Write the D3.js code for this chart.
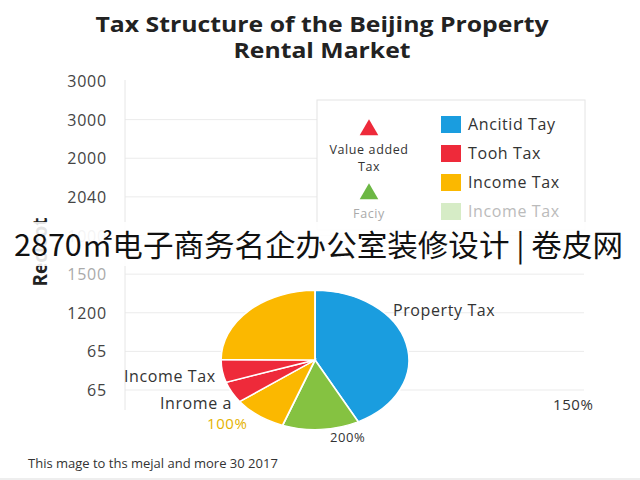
<!DOCTYPE html>
<html>
<head>
<meta charset="utf-8">
<script src="https://cdn.jsdelivr.net/npm/d3@7"></script>
<style>
  html, body { margin: 0; padding: 0; background: #fff; }
  svg { display: block; }
</style>
</head>
<body>
<svg id="chart" width="640" height="480"></svg>
<script>
// ---- data ----
const titleLines = ["Tax Structure of the Beijing Property", "Rental Market"];
const yTickLabels = ["3000", "3000", "2000", "2040", "1000", "1500", "1200", "65", "65"];
const yAxisTitle = "Reclcot";
const sliceNames = ["Property Tax", "Facicy", "Income Tax", "Tooh Tax", "Value added Tax", "Income Tax "];
const sliceValues = [42.4, 13.2, 9.2, 5.0, 5.3, 24.9];
const sliceColors = ["#1a9ddf", "#85c241", "#fbb800", "#ee2a3a", "#ee2a3a", "#fbb800"];
const legendNames = ["Ancitid Tay", "Tooh Tax", "Income Tax", "Income Tax"];
const legendColors = ["#1a9ddf", "#ee2a3a", "#fbb800", "#d6ecc6"];
const triangleNames = [["Value added", "Tax"], ["Faciy"]];
const triangleColors = ["#ee2a3a", "#6cb744"];
const pieLabels = [
  {text: "Property Tax", x: 393, y: 316, color: "#333", size: 16},
  {text: "Income Tax", x: 124, y: 382, color: "#333", size: 16},
  {text: "Inrome a", x: 160, y: 409, color: "#333", size: 16},
  {text: "100%", x: 207, y: 429, color: "#e5b200", size: 15},
  {text: "200%", x: 330, y: 442, color: "#333", size: 13},
  {text: "150%", x: 553, y: 410, color: "#333", size: 15}
];
const bannerText = "2870㎡电子商务名企办公室装修设计 | 卷皮网";
const footerText = "This mage to ths mejal and more 30 2017";

const svg = d3.select("#chart");
const font = "'Open Sans', 'Noto Sans', sans-serif";

// title
const titleWidths = [453, 177];
svg.selectAll("text.title").data(titleLines).join("text")
  .attr("class", "title")
  .attr("x", 322).attr("y", (d, i) => 32 + i * 26)
  .attr("text-anchor", "middle")
  .attr("font-family", font).attr("font-weight", "bold")
  .attr("font-size", 21).attr("fill", "#222")
  .attr("textLength", (d, i) => titleWidths[i]).attr("lengthAdjust", "spacingAndGlyphs")
  .text(d => d);

// y axis (point scale over tick labels)
const y = d3.scalePoint().domain(d3.range(yTickLabels.length)).range([81, 390]);
const gridIdx = [1, 2, 3, 4, 5, 6, 7, 8];
svg.append("g").selectAll("line").data(gridIdx).join("line")
  .attr("x1", 125).attr("x2", 584)
  .attr("y1", d => y(d)).attr("y2", d => y(d))
  .attr("stroke", "#ebebeb").attr("stroke-width", 1);
svg.append("line").attr("x1", 125).attr("x2", 125).attr("y1", 80).attr("y2", 410)
  .attr("stroke", "#e6e6e6");

const yAxis = d3.axisLeft(y).tickSize(0).tickFormat(i => yTickLabels[i]);
const gy = svg.append("g").attr("transform", "translate(107,0)").call(yAxis);
gy.select(".domain").remove();
gy.selectAll("text")
  .attr("font-family", font).attr("font-size", 16).attr("letter-spacing", 0.8)
  .attr("fill", (d) => (d === 4 || d === 5) ? "#aaa" : "#444")
  .attr("dy", "0.35em").attr("x", 0);

// y axis title
svg.append("text")
  .attr("transform", "translate(47,252) rotate(-90)")
  .attr("text-anchor", "middle")
  .attr("font-family", font).attr("font-weight", "bold")
  .attr("font-size", 19).attr("fill", "#222")
  .text(yAxisTitle);

// legend box
svg.append("rect").attr("x", 317).attr("y", 100).attr("width", 268).attr("height", 130)
  .attr("fill", "#fff").attr("stroke", "#e4e4e4");

const tri = d3.symbol().type(d3.symbolTriangle).size(150);
const triY = [130, 194];
triangleColors.forEach((c, i) => {
  svg.append("path").attr("d", tri).attr("fill", c)
    .attr("transform", `translate(369,${triY[i]})`);
  svg.selectAll(null).data(triangleNames[i]).join("text")
    .attr("x", 369).attr("y", (d, j) => triY[i] + 24 + j * 17)
    .attr("text-anchor", "middle").attr("font-family", font).attr("font-size", 12.5)
    .attr("letter-spacing", 0.6)
    .attr("fill", i === 0 ? "#333" : "#aaa").text(d => d);
});

const legY = d3.scalePoint().domain(d3.range(legendNames.length)).range([125, 212]);
const lg = svg.append("g").selectAll("g").data(legendNames).join("g")
  .attr("transform", (d, i) => `translate(441,${legY(i)})`);
lg.append("rect").attr("x", 0).attr("y", -9).attr("width", 20).attr("height", 17)
  .attr("fill", (d, i) => legendColors[i]);
lg.append("text").attr("x", 27).attr("y", 5)
  .attr("font-family", font).attr("font-size", 16).attr("letter-spacing", 0.6)
  .attr("fill", (d, i) => i === 3 ? "#bbb" : "#333").text(d => d);

// banner
svg.append("rect").attr("x", 0).attr("y", 222).attr("width", 640).attr("height", 44)
  .attr("fill", "#fff").attr("opacity", 0.88);
svg.append("text").attr("x", 14).attr("y", 256)
  .attr("font-family", "'Noto Sans CJK SC', sans-serif").attr("font-size", 30)
  .attr("fill", "#111").attr("textLength", 609).attr("lengthAdjust", "spacingAndGlyphs")
  .text(bannerText);

// pie (elliptical)
const pie = d3.pie().sort(null).value(d => d)(sliceValues);
const arc = d3.arc().innerRadius(0).outerRadius(94);
svg.append("g").attr("transform", "translate(315,360) scale(1,0.74)")
  .selectAll("path").data(pie).join("path")
  .attr("d", arc).attr("fill", (d, i) => sliceColors[i])
  .attr("stroke", "#fff").attr("stroke-width", 1.8);

// pie labels
svg.selectAll("text.pl").data(pieLabels).join("text")
  .attr("class", "pl").attr("x", d => d.x).attr("y", d => d.y)
  .attr("font-family", font).attr("font-size", d => d.size).attr("letter-spacing", 0.6)
  .attr("fill", d => d.color).text(d => d.text);

// footer
svg.append("text").attr("x", 28).attr("y", 468)
  .attr("font-family", font).attr("font-size", 13).attr("fill", "#333")
  .text(footerText);
svg.append("line").attr("x1", 0).attr("x2", 640).attr("y1", 479).attr("y2", 479)
  .attr("stroke", "#ddd");
</script>
</body>
</html>
